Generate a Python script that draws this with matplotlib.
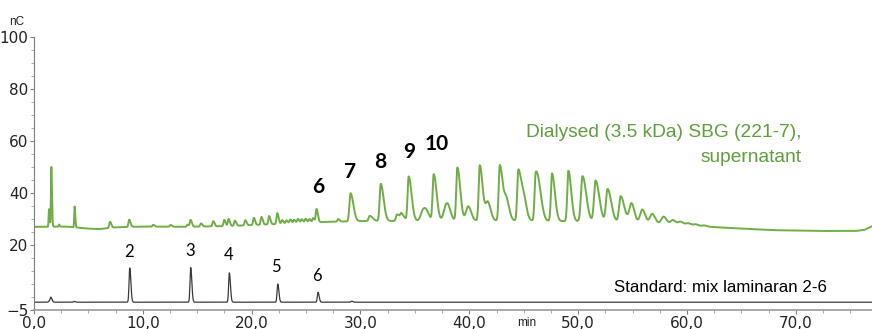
import numpy as np
import matplotlib
matplotlib.use("Agg")
import matplotlib.pyplot as plt
from matplotlib.ticker import MultipleLocator, FixedLocator, FuncFormatter

# ---------------- Dados (lidos do cromatograma) ----------------
# linha de base da amostra (min, nC)
base_t = [0.0, 1.0, 3.0, 5.0, 6.0, 7.5, 10.0, 14.0, 18.0, 22.0, 24.0, 26.0, 30.0, 35.0,
          40.0, 45.0, 50.0, 55.0, 58.0, 60.0, 62.0, 65.0, 68.0, 72.0, 75.5, 76.3, 77.0]
base_v = [27.0, 27.0, 27.1, 26.3, 26.1, 26.8, 27.1, 27.0, 27.3, 28.0, 28.4, 28.8, 29.2, 29.3,
          29.4, 29.4, 29.1, 28.7, 28.2, 27.6, 27.0, 26.3, 25.7, 25.4, 25.4, 25.8, 27.2]

# picos da amostra: tempo de retenção (min), altura acima da base (nC)
pico_t = [1.38, 1.59, 2.3, 3.73, 6.98, 8.75, 10.96, 12.55, 14.1, 14.39, 15.34, 16.47,
          17.48, 17.88, 18.46, 19.41, 20.2, 20.9, 21.6, 22.35,
          22.8, 23.2, 23.55, 23.9, 24.25, 24.6, 24.95, 25.3, 25.65, 25.96,
          27.95, 29.08, 30.85, 31.86, 33.36, 33.76, 34.43, 35.75, 36.1, 36.73,
          37.83, 38.1, 38.9, 39.9, 40.96, 41.7, 42.8, 43.4, 44.5, 45.0,
          46.1, 46.5, 47.6, 49.1, 50.4, 51.6, 52.7, 53.9, 54.9, 55.9,
          56.8, 57.85, 58.7, 59.4, 60.1, 60.8, 61.6]
pico_h = [6.8, 23.0, 0.8, 8.0, 2.4, 2.8, 0.7, 0.7, 0.8, 2.6, 1.2, 2.0,
          2.4, 2.7, 2.0, 2.0, 2.8, 3.0, 3.2, 4.2,
          1.4, 1.2, 1.5, 1.3, 1.6, 1.4, 1.5, 1.3, 1.6, 5.0,
          1.0, 10.8, 2.0, 14.3, 2.5, 2.3, 17.0, 4.0, 2.5, 17.8,
          5.0, 3.0, 20.4, 5.5, 21.3, 7.0, 21.3, 8.0, 19.3, 8.0,
          17.8, 7.0, 18.3, 19.4, 17.4, 15.8, 12.6, 10.0, 7.3, 5.1,
          3.6, 2.7, 1.6, 1.2, 0.8, 0.6, 0.4]

# padrão laminarana 2-6
pad_base = -2.0
pad_t = [1.4, 1.55, 3.7, 8.8, 14.4, 17.95, 22.4, 26.1, 29.2]
pad_h = [0.4, 1.8, 0.3, 13.2, 13.3, 11.3, 7.0, 3.8, 0.4]

# rótulos
rot_amostra = ["6", "7", "8", "9", "10"]
rot_amostra_t = [26.1, 29.0, 31.8, 34.5, 37.0]
rot_amostra_v = [42.3, 48.0, 52.0, 55.7, 58.8]

rot_padrao = ["2", "3", "4", "5", "6"]
rot_padrao_t = [8.75, 14.3, 17.9, 22.2, 26.0]
rot_padrao_v = [17.2, 17.7, 16.2, 11.7, 8.2]

# ---------------- Montagem das curvas ----------------
t = np.linspace(0, 77, 6000)


def pico(t, t0, h, sl, sr):
    s = np.where(t < t0, sl, sr)
    return h * np.exp(-0.5 * ((t - t0) / s) ** 2)


amostra = np.interp(t, base_t, base_v)
for t0, h in zip(pico_t, pico_h):
    if t0 < 5:
        sl, sr = 0.035, 0.06
    elif t0 < 28:
        sl, sr = 0.07, 0.12
    elif t0 < 50:
        sl, sr = 0.1, 0.26
    else:
        sl, sr = 0.14, 0.34
    if h < 9 and t0 > 35:
        sl, sr = 0.2, 0.26
    amostra += pico(t, t0, h, sl, sr)

padrao = np.full_like(t, pad_base)
for t0, h in zip(pad_t, pad_h):
    padrao += pico(t, t0, h, 0.065, 0.1)

# ---------------- Gráfico ----------------
fig = plt.figure(figsize=(8.72, 3.29), dpi=100)
ax = fig.add_axes([34 / 872, 19 / 329, 1 - 34 / 872, 273 / 329])

ax.plot(t, amostra, color="#70AD47", linewidth=1.4)
ax.plot(t, padrao, color="#3a3a3a", linewidth=0.9)

ax.set_xlim(0, 77)
ax.set_ylim(-5, 100)

for lado in ["top", "right"]:
    ax.spines[lado].set_visible(False)
ax.spines["left"].set_color("#7f7f7f")
ax.spines["bottom"].set_color("#9a9a9a")
ax.spines["bottom"].set_linewidth(1.2)

ax.xaxis.set_major_locator(MultipleLocator(10))
ax.xaxis.set_minor_locator(MultipleLocator(2.5))
ax.xaxis.set_major_formatter(FuncFormatter(lambda x, p: f"{x:.1f}".replace(".", ",")))
ax.yaxis.set_major_locator(FixedLocator([-5, 20, 40, 60, 80, 100]))
ax.yaxis.set_minor_locator(MultipleLocator(5))

ax.tick_params(axis="both", which="major", labelsize=11, length=3, color="#7f7f7f",
               labelcolor="#222222", pad=1)
ax.tick_params(axis="both", which="minor", length=2, color="#9a9a9a")

fonte_txt = ["Liberation Sans", "DejaVu Sans"]

fig.text(17 / 872, 1 - 22 / 329, "nC", fontsize=8.5, family=fonte_txt,
         ha="center", va="center", color="#222222")
fig.text(527 / 872, 1 - 323 / 329, "min", fontsize=8.5, family=fonte_txt,
         ha="center", va="center", color="#222222")

verde_txt = "#5f9e3b"
ax.text(70.5, 63.1, "Dialysed (3.5 kDa) SBG (221-7),", fontsize=13.8, family=fonte_txt,
        color=verde_txt, ha="right", va="center")
ax.text(70.5, 53.5, "supernatant", fontsize=13.8, family=fonte_txt,
        color=verde_txt, ha="right", va="center")

ax.text(53.3, 3.5, "Standard: mix laminaran 2-6", fontsize=12.2, family=fonte_txt,
        color="black", ha="left", va="center")

for s, x, y in zip(rot_amostra, rot_amostra_t, rot_amostra_v):
    ax.text(x, y, s, fontsize=15, fontweight="bold", family=["Lato", "DejaVu Sans"],
            ha="center", va="center", color="black")

for s, x, y in zip(rot_padrao, rot_padrao_t, rot_padrao_v):
    ax.text(x, y, s, fontsize=12, family=["Lato", "DejaVu Sans"],
            ha="center", va="center", color="black")

fig.savefig("out.png", dpi=100)
